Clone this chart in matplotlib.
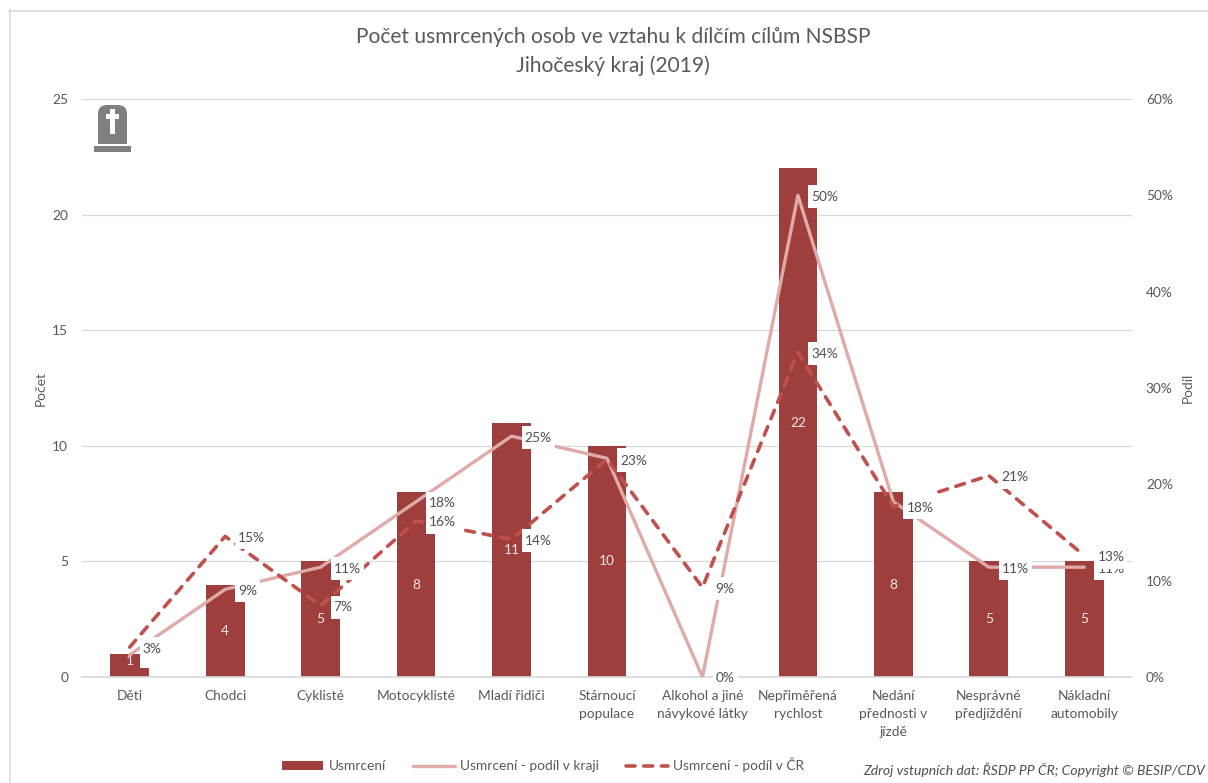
import matplotlib
matplotlib.use("Agg")
import matplotlib.pyplot as plt
from matplotlib.patches import Rectangle, FancyBboxPatch
from matplotlib.lines import Line2D
from matplotlib.path import Path
from matplotlib.transforms import IdentityTransform

plt.rcParams['font.family'] = ['Lato', 'DejaVu Sans']

categories = ["Děti", "Chodci", "Cyklisté", "Motocyklisté", "Mladí řidiči",
              "Stárnoucí\npopulace", "Alkohol a jiné\nnávykové látky",
              "Nepřiměřená\nrychlost", "Nedání\npřednosti v\njízdě",
              "Nesprávné\npředjíždění", "Nákladní\nautomobily"]
deaths = [1, 4, 5, 8, 11, 10, 0, 22, 8, 5, 5]
share_region = [2.3, 9.1, 11.4, 18.2, 25.0, 22.7, 0.0, 50.0, 18.2, 11.4, 11.4]
share_country = [3.1, 14.6, 7.4, 16.2, 14.3, 22.6, 9.3, 33.7, 17.7, 20.9, 12.6]
left_ticks = [0, 5, 10, 15, 20, 25]
right_ticks = [0, 10, 20, 30, 40, 50, 60]

BAR = "#9e3f3d"
LIGHT = "#e0aaa8"
DASH = "#c0504d"
TXT = "#595959"
GRID = "#d9d9d9"
FS = 9.9

W, H = 1208, 783
fig = plt.figure(figsize=(W / 100, H / 100), dpi=100, facecolor="white")
L, R, T, B = 82, 1132, 99, 677
ax = fig.add_axes([L / W, 1 - B / H, (R - L) / W, (B - T) / H])
x = list(range(len(categories)))

ax.set_xlim(-0.5, len(categories) - 0.5)
ax.set_ylim(0, 25)
ax.set_yticks(left_ticks)
ax.set_xticks(x)
ax.set_xticklabels(categories, fontsize=FS, color=TXT, linespacing=1.6, va="top")
ax.tick_params(axis="x", length=0, pad=9)
ax.tick_params(axis="y", length=0, pad=10, labelsize=FS, labelcolor=TXT)
ax.yaxis.grid(True, color=GRID, lw=0.9)
ax.set_axisbelow(True)
for s in ax.spines.values():
    s.set_visible(False)
ax.spines["bottom"].set_visible(True)
ax.spines["bottom"].set_color(GRID)
ax.spines["bottom"].set_linewidth(1.2)

ax.bar(x, deaths, width=0.405, color=BAR, zorder=2)
for xi, d in zip(x, deaths):
    if d > 0:
        ax.text(xi, max(d / 2, 0.68), str(d), ha="center", va="center", fontsize=FS,
                color="#f5e6e6", zorder=3)

ax2 = ax.twinx()
ax2.set_xlim(ax.get_xlim())
ax2.set_ylim(0, 60)
ax2.set_yticks(right_ticks)
ax2.set_yticklabels([f"{v}%" for v in right_ticks])
ax2.tick_params(axis="y", length=0, pad=10, labelsize=FS, labelcolor=TXT)
for s in ax2.spines.values():
    s.set_visible(False)
DASHES = (2.5, 2.4)
ax2.plot(x, share_region, color=LIGHT, lw=2.4, zorder=4, solid_capstyle="round")
ax2.plot(x, share_country, color=DASH, lw=2.6, zorder=5,
         dashes=DASHES, dash_capstyle="round")


def label_box(x0, y0, width, height, mutation_size):
    """White label background: 3 px at the sides, 23 px tall in total."""
    px_side = 3
    extra = (23 - height) / 2
    a, b = x0 - px_side, x0 + width + px_side
    c, d = y0 - extra, y0 + height + extra
    return Path([(a, c), (b, c), (b, d), (a, d), (a, c)], closed=True)


box = dict(boxstyle=label_box, fc="white", ec="none")
for series, z in ((share_region, 6), (share_country, 7)):
    for xi, v in zip(x, series):
        ax2.annotate(f"{v:.0f}%", (xi, v), xytext=(9.4, -1), textcoords="offset points",
                     ha="left", va="center", fontsize=FS, color="#505050", bbox=box, zorder=z)

fig.text(613 / W, 1 - 37 / H, "Počet usmrcených osob ve vztahu k dílčím cílům NSBSP",
         ha="center", va="center", fontsize=15.1, color=TXT)
fig.text(613 / W, 1 - 66 / H, "Jihočeský kraj (2019)",
         ha="center", va="center", fontsize=15.1, color=TXT)
fig.text(41 / W, 1 - 388 / H, "Počet", rotation=90, ha="center", va="center",
         fontsize=FS, color=TXT)
fig.text(1188 / W, 1 - 388 / H, "Podíl", rotation=90, ha="center", va="center",
         fontsize=FS, color=TXT)
fig.text(1205 / W, 1 - 770 / H, "Zdroj vstupních dat: ŘSDP PP ČR; Copyright © BESIP/CDV",
         ha="right", va="center", fontsize=10.1, color="#505050", style="italic")

# legend
handles = [Rectangle((0, 0), 1, 1, fc=BAR, ec="none"),
           Line2D([], [], color=LIGHT, lw=2.4, solid_capstyle="round"),
           Line2D([], [], color=DASH, lw=2.6, dashes=DASHES, dash_capstyle="round")]
fig.legend(handles, ["Usmrcení", "Usmrcení - podíl v kraji", "Usmrcení - podíl v ČR"],
           loc="center", bbox_to_anchor=(543 / W, 1 - 765 / H), ncol=3, frameon=False,
           fontsize=FS, labelcolor=TXT, handlelength=3.0, handleheight=0.55,
           columnspacing=2.0, handletextpad=0.4)

# chart frame: top and left edges only
fig.add_artist(Line2D([9 / W, 1], [1 - 10.5 / H, 1 - 10.5 / H], transform=fig.transFigure,
                      color=GRID, lw=1.1))
fig.add_artist(Line2D([9.5 / W, 9.5 / W], [0, 1 - 10 / H], transform=fig.transFigure,
                      color=GRID, lw=1.1))

# tombstone icon, given in pixels from the top left
GR = "#7f7f7f"
PX = IdentityTransform()


def rect(x0, y0, w, h, c):
    fig.add_artist(Rectangle((x0, H - y0 - h), w, h, transform=PX, fc=c, ec="none"))


rect(94, 146, 37, 6, GR)
fig.add_artist(FancyBboxPatch((98 + 9, H - 144 + 9), 29 - 18, 39 - 18,
                              boxstyle="round,pad=9,rounding_size=9", transform=PX,
                              fc=GR, ec="none", mutation_aspect=1))
rect(98, 124, 29, 20, GR)
rect(110, 109, 5, 25, "white")
rect(106, 114, 13, 5, "white")

fig.savefig("out.png", dpi=100, facecolor="white")
